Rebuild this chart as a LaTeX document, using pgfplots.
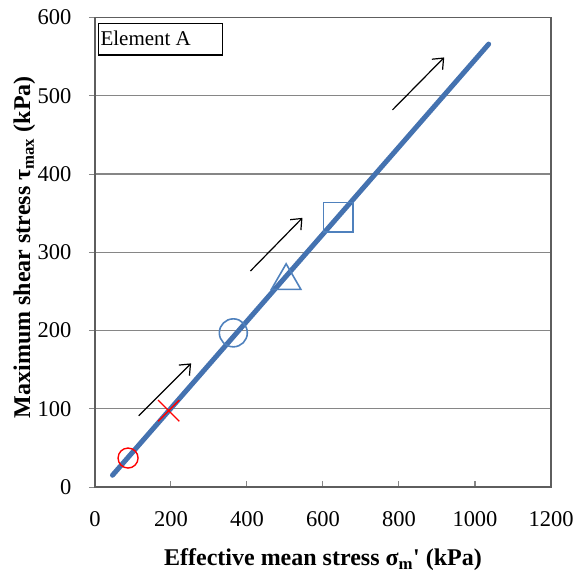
\documentclass[border=0pt]{standalone}
\usepackage{fontspec}
\setmainfont{Liberation Serif}
\usepackage{pgfplots}
\pgfplotsset{compat=1.18}
\usetikzlibrary{arrows.meta}
\definecolor{mainblue}{RGB}{68,114,176}
\definecolor{markblue}{RGB}{79,129,189}
\definecolor{gridgray}{RGB}{134,134,134}
\begin{document}
\begin{tikzpicture}
\begin{axis}[
  scale only axis,
  width=456pt, height=469.5pt,
  xmin=0, xmax=1200, ymin=0, ymax=600,
  xtick={0,200,...,1200}, ytick={0,100,...,600},
  tick pos=left,
  xtick align=inside, ytick align=outside,
  major tick length=6pt,
  tick style={gridgray, line width=1pt},
  ymajorgrids,
  grid style={gridgray, line width=1.3pt},
  axis line style={gridgray!70!black, line width=1.3pt},
  /pgf/number format/assume math mode=true,
  /pgf/number format/1000 sep={},
  ticklabel style={font=\fontsize{22.5}{26}\selectfont},
  xticklabel style={yshift=-21pt},
  yticklabel style={xshift=-14pt},
  xlabel={\textbf{Effective mean stress σ\textsubscript{m}\textquotesingle\ (kPa)}},
  ylabel={\textbf{Maximum shear stress τ\textsubscript{max} (kPa)}},
  label style={font=\fontsize{24}{28}\selectfont},
  xlabel style={at={(axis description cs:0.5,0)}, anchor=center, yshift=-73pt},
  ylabel style={at={(axis description cs:-0.155,0.511)}, anchor=center, rotate=0},
  clip=false,
]
% blue markers (under the line)
\addplot[only marks, mark=o, mark size=14pt, draw=markblue, mark options={line width=1.6pt}] coordinates {(364,197)};
\addplot[only marks, mark=triangle, mark size=17pt, draw=markblue, mark options={line width=1.6pt}] coordinates {(503,263.5)};
\addplot[only marks, mark=square, mark size=14.7pt, draw=markblue, mark options={line width=1.6pt}] coordinates {(640,345)};
% main path
\addplot[mainblue, line width=5pt, line cap=round] coordinates {(46,15) (1036,566)};
% red markers
\addplot[only marks, mark=o, mark size=10pt, draw=red, mark options={line width=1.4pt}] coordinates {(87,37)};
\addplot[only marks, mark=x, mark size=15pt, draw=red, mark options={line width=1.4pt}] coordinates {(194,97.5)};
% arrows
\addplot[black, line width=1.2pt, -{Straight Barb[length=9pt,width=15pt]}] coordinates {(115,91) (253,158)};
\addplot[black, line width=1.2pt, -{Straight Barb[length=9pt,width=15pt]}] coordinates {(409,276) (546,344)};
\addplot[black, line width=1.2pt, -{Straight Barb[length=9pt,width=15pt]}] coordinates {(783,482) (919,549)};
% Element A box
\draw[black, line width=1.3pt] (axis cs:9.5,592) rectangle (axis cs:335,552);
\node[anchor=west, inner sep=0pt, font=\fontsize{21}{25}\selectfont] at (axis cs:14,574) {Element A};
\end{axis}
\pgfresetboundingbox
\path[use as bounding box] (-95pt,-92pt) rectangle (482pt,487pt);
\end{tikzpicture}
\end{document}
